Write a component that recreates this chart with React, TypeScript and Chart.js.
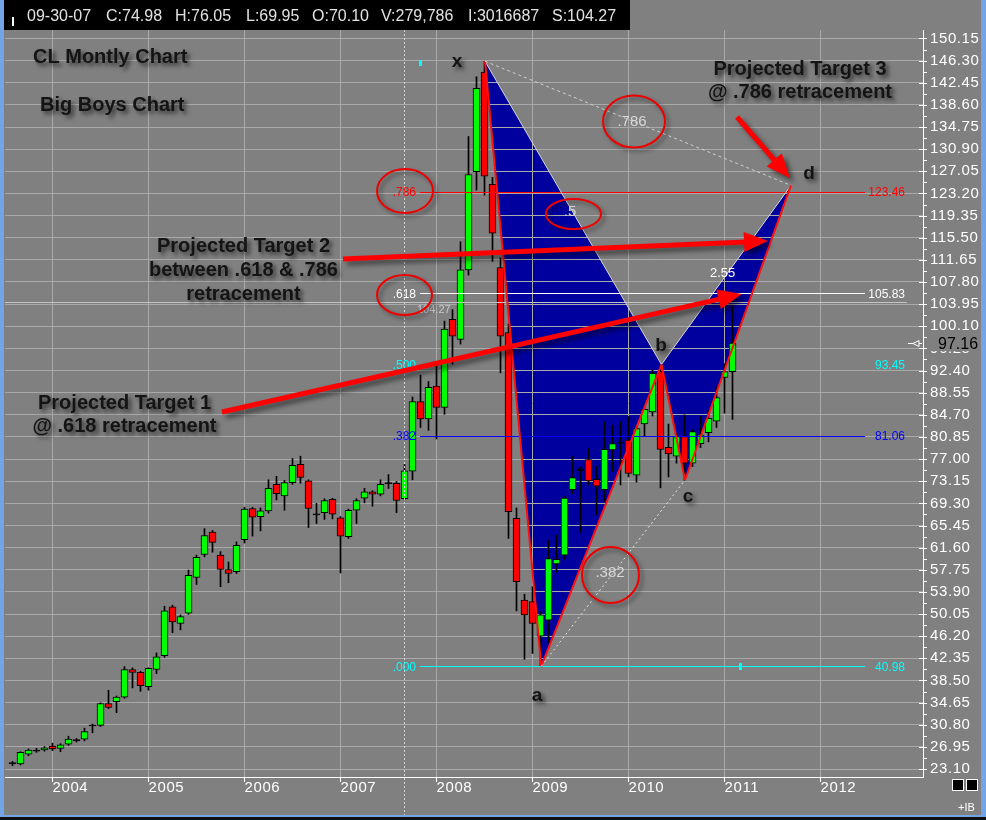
import React, { useEffect, useRef } from 'react';
import { Chart, registerables } from 'chart.js';

Chart.register(...registerables);

// ---------- DATA ----------
const months = [
  '2003-08', '2003-09', '2003-10', '2003-11', '2003-12',
  '2004-01', '2004-02', '2004-03', '2004-04', '2004-05', '2004-06', '2004-07', '2004-08', '2004-09', '2004-10', '2004-11', '2004-12',
  '2005-01', '2005-02', '2005-03', '2005-04', '2005-05', '2005-06', '2005-07', '2005-08', '2005-09', '2005-10', '2005-11', '2005-12',
  '2006-01', '2006-02', '2006-03', '2006-04', '2006-05', '2006-06', '2006-07', '2006-08', '2006-09', '2006-10', '2006-11', '2006-12',
  '2007-01', '2007-02', '2007-03', '2007-04', '2007-05', '2007-06', '2007-07', '2007-08', '2007-09', '2007-10', '2007-11', '2007-12',
  '2008-01', '2008-02', '2008-03', '2008-04', '2008-05', '2008-06', '2008-07', '2008-08', '2008-09', '2008-10', '2008-11', '2008-12',
  '2009-01', '2009-02', '2009-03', '2009-04', '2009-05', '2009-06', '2009-07', '2009-08', '2009-09', '2009-10', '2009-11', '2009-12',
  '2010-01', '2010-02', '2010-03', '2010-04', '2010-05', '2010-06', '2010-07', '2010-08', '2010-09', '2010-10', '2010-11', '2010-12',
  '2011-01', '2011-02',
];

const opens = [
  24.0, 24.0, 25.7, 26.4, 26.4,
  27.1, 26.7, 27.4, 28.0, 28.3, 30.6, 30.7, 34.5, 34.8, 35.6, 40.4, 39.9,
  37.4, 40.4, 42.8, 51.3, 48.4, 50.2, 56.4, 60.4, 64.3, 60.3, 57.8, 57.4,
  63.0, 68.4, 66.97, 68.0, 72.6, 70.6, 72.9, 76.1, 73.2, 67.3, 67.7, 70.0,
  66.8, 63.5, 68.1, 70.2, 71.3, 70.9, 72.7, 72.8, 70.1, 74.9, 87.0, 84.0,
  89.7, 86.0, 101.3, 97.8, 109.9, 127.0, 144.3, 124.8, 110.3, 99.0, 66.7, 52.5,
  52.2, 46.2, 49.0, 58.75, 60.3, 71.7, 75.0, 76.9, 73.5, 71.7, 78.6, 79.75,
  80.3, 74.2, 83.1, 85.2, 92.2, 79.05, 77.5, 80.9, 76.3, 79.7, 81.6, 83.6,
  91.2, 92.2,
];

const highs = [
  24.4, 26.1, 26.6, 26.7, 27.0,
  27.6, 27.5, 28.8, 28.4, 30.2, 30.9, 34.6, 36.8, 35.8, 40.9, 40.7, 40.1,
  40.7, 43.3, 51.4, 51.6, 49.9, 57.7, 60.3, 64.9, 64.6, 60.9, 59.1, 62.6,
  68.6, 68.6, 68.5, 73.4, 74.0, 73.3, 77.1, 77.5, 73.4, 69.3, 70.1, 70.2,
  67.0, 68.3, 70.1, 71.9, 71.5, 73.4, 74.3, 73.1, 76.05, 87.8, 91.6, 90.5,
  93.5, 101.0, 103.0, 114.8, 133.1, 143.5, 146.2, 126.0, 112.0, 100.5, 68.5, 53.5,
  54.8, 50.5, 62.9, 63.8, 70.5, 77.5, 75.6, 78.8, 75.8, 83.5, 82.9, 83.5,
  84.4, 82.6, 86.0, 92.5, 93.0, 83.1, 81.5, 84.7, 82.2, 84.4, 85.5, 89.5,
  93.6, 103.5,
];

const lows = [
  23.7, 23.8, 25.4, 26.0, 26.2,
  26.3, 26.1, 27.2, 27.8, 28.0, 29.4, 30.5, 33.6, 32.9, 35.4, 37.2, 36.6,
  36.8, 39.7, 42.5, 46.8, 47.3, 50.0, 55.2, 60.0, 60.8, 54.8, 55.5, 57.1,
  62.4, 63.6, 64.5, 67.6, 69.9, 68.1, 72.6, 72.8, 65.1, 65.8, 66.5, 66.6,
  57.2, 63.2, 65.8, 69.4, 68.8, 70.6, 71.9, 67.7, 69.95, 73.4, 82.5, 82.0,
  80.5, 84.8, 93.5, 97.0, 109.0, 123.8, 122.9, 111.4, 92.0, 63.2, 50.6, 42.2,
  43.2, 41.0, 45.0, 57.3, 59.6, 71.0, 64.2, 72.5, 67.3, 69.6, 74.8, 72.5,
  73.9, 73.0, 80.9, 84.5, 72.0, 73.9, 76.3, 73.3, 75.7, 79.0, 80.0, 82.5,
  85.0, 83.9,
];

const closes = [
  24.2, 26.0, 26.4, 26.2, 26.8,
  26.6, 27.3, 28.3, 28.2, 29.6, 30.8, 34.5, 33.8, 35.6, 40.4, 39.9, 37.6,
  40.6, 42.6, 50.6, 48.7, 49.6, 56.8, 59.9, 63.7, 62.5, 57.8, 57.1, 62.0,
  68.3, 66.9, 68.0, 71.9, 71.0, 72.9, 75.9, 73.8, 68.4, 67.5, 69.8, 67.4,
  63.6, 68.1, 69.8, 71.3, 70.9, 72.6, 72.9, 69.8, 74.98, 87.0, 84.0, 89.5,
  86.0, 99.6, 98.4, 109.9, 126.5, 141.5, 126.2, 116.3, 98.4, 67.85, 55.7, 49.9,
  48.4, 49.9, 59.7, 59.55, 70.2, 73.8, 75.3, 73.2, 72.3, 78.7, 79.7, 79.95,
  74.5, 82.3, 85.65, 91.9, 78.7, 77.9, 80.9, 76.3, 81.8, 81.2, 84.1, 87.7,
  92.2, 97.16,
];

const yearLabels = ['2004', '2005', '2006', '2007', '2008', '2009', '2010', '2011', '2012'];
const priceLabels = [
  '23.10', '26.95', '30.80', '34.65', '38.50', '42.35', '46.20', '50.05', '53.90', '57.75', '61.60', '65.45',
  '69.30', '73.15', '77.00', '80.85', '84.70', '88.55', '92.40', '96.25', '100.10', '103.95', '107.80',
  '111.65', '115.50', '119.35', '123.20', '127.05', '130.90', '134.75', '138.60', '142.45', '146.30', '150.15',
];

// Fibonacci retracement levels of the XA leg
const fibRatios = ['.000', '.382', '.500', '.618', '.786'];
const fibPrices = [40.98, 81.06, 93.45, 105.83, 123.46];
const fibColors = ['#00ffff', '#0000ff', '#00ffff', '#ffffff', '#ff0000'];

// Harmonic pattern pivots (month index from Jan 2004, price)
const patternNames = ['x', 'a', 'b', 'c', 'd'];
const patternMonths = [54.06, 61.1, 76.12, 79.06, 92.31];
const patternPrices = [146.2, 40.98, 93.45, 73.36, 124.6];

const headerItems = ['09-30-07', 'C:74.98', 'H:76.05', 'L:69.95', 'O:70.10', 'V:279,786', 'I:3016687', 'S:104.27'];
const lastPrice = '97.16';
const cursorPrice = 104.27;
const cursorMonth = 44;

// ---------- helpers ----------
const monthIndex = (s: string) => (parseInt(s.slice(0, 4), 10) - 2004) * 12 + parseInt(s.slice(5), 10) - 1;

const FONT = "'Liberation Sans', Arial, sans-serif";
const X_MIN = -5.9375;
const X_MAX = 108.8125;
const Y_MIN = 21.709;
const Y_MAX = 151.628;
const FIB_FROM = 45.94;
const FIB_TO = 101.56;

function shadowText(ctx: CanvasRenderingContext2D, text: string, x: number, y: number, align: CanvasTextAlign = 'left', font = `bold 20px ${FONT}`) {
  ctx.save();
  ctx.font = font;
  ctx.textAlign = align;
  ctx.textBaseline = 'alphabetic';
  ctx.shadowColor = 'rgba(0,0,0,0.6)';
  ctx.shadowBlur = 4;
  ctx.shadowOffsetX = 3;
  ctx.shadowOffsetY = 3;
  ctx.fillStyle = '#141414';
  ctx.fillText(text, x, y);
  ctx.restore();
}

function drawArrow(ctx: CanvasRenderingContext2D, x1: number, y1: number, x2: number, y2: number) {
  const ang = Math.atan2(y2 - y1, x2 - x1);
  const headLen = 24;
  const headHalf = 10;
  const bx = x2 - headLen * Math.cos(ang);
  const by = y2 - headLen * Math.sin(ang);
  ctx.save();
  ctx.shadowColor = 'rgba(0,0,0,0.5)';
  ctx.shadowBlur = 5;
  ctx.shadowOffsetX = 4;
  ctx.shadowOffsetY = 4;
  ctx.strokeStyle = '#ff0000';
  ctx.fillStyle = '#ff0000';
  ctx.lineWidth = 5;
  ctx.lineCap = 'butt';
  ctx.beginPath();
  ctx.moveTo(x1, y1);
  ctx.lineTo(bx + 2 * Math.cos(ang), by + 2 * Math.sin(ang));
  ctx.stroke();
  ctx.beginPath();
  ctx.moveTo(x2, y2);
  ctx.lineTo(bx + headHalf * Math.sin(ang), by - headHalf * Math.cos(ang));
  ctx.lineTo(bx - headHalf * Math.sin(ang), by + headHalf * Math.cos(ang));
  ctx.closePath();
  ctx.fill();
  ctx.restore();
}

function drawEllipse(ctx: CanvasRenderingContext2D, cx: number, cy: number, rx: number, ry: number) {
  ctx.save();
  ctx.shadowColor = 'rgba(0,0,0,0.45)';
  ctx.shadowBlur = 4;
  ctx.shadowOffsetX = 3;
  ctx.shadowOffsetY = 3;
  ctx.strokeStyle = '#ee0000';
  ctx.lineWidth = 2;
  ctx.beginPath();
  ctx.ellipse(cx, cy, rx, ry, 0, 0, Math.PI * 2);
  ctx.stroke();
  ctx.restore();
}

const overlayPlugin = {
  id: 'overlay',
  beforeDraw(chart: any) {
    const { ctx, width, height, chartArea } = chart;
    const xs = chart.scales.x;
    const ys = chart.scales.y;
    ctx.save();
    ctx.fillStyle = '#808080';
    ctx.fillRect(0, 0, width, height);
    ctx.beginPath();
    ctx.rect(chartArea.left, chartArea.top, chartArea.right - chartArea.left, chartArea.bottom - chartArea.top);
    ctx.clip();
    const P = patternMonths.map((m, i) => [xs.getPixelForValue(m), ys.getPixelForValue(patternPrices[i])]);
    ctx.fillStyle = '#00009e';
    [[0, 1, 2], [2, 3, 4]].forEach((t) => {
      ctx.beginPath();
      ctx.moveTo(P[t[0]][0], P[t[0]][1]);
      ctx.lineTo(P[t[1]][0], P[t[1]][1]);
      ctx.lineTo(P[t[2]][0], P[t[2]][1]);
      ctx.closePath();
      ctx.fill();
    });
    ctx.restore();
    // slightly spaced axis digits, like the original terminal font
    try { (ctx as any).letterSpacing = '0.6px'; } catch (e) { /* ignore */ }
  },
  afterDraw(chart: any) {
    const { ctx, chartArea } = chart;
    try { (ctx as any).letterSpacing = '0px'; } catch (e) { /* ignore */ }
    const xs = chart.scales.x;
    const ys = chart.scales.y;
    const P = patternMonths.map((m, i) => [xs.getPixelForValue(m), ys.getPixelForValue(patternPrices[i])]);

    ctx.save();
    ctx.beginPath();
    ctx.rect(chartArea.left, chartArea.top, chartArea.right - chartArea.left, chartArea.bottom - chartArea.top);
    ctx.clip();

    // cursor crosshair
    const cy = Math.round(ys.getPixelForValue(cursorPrice)) + 0.5;
    ctx.strokeStyle = '#c4c4c4';
    ctx.lineWidth = 1;
    ctx.beginPath();
    ctx.moveTo(chartArea.left, cy);
    ctx.lineTo(907, cy);
    ctx.stroke();

    // fib lines
    fibPrices.forEach((p, i) => {
      if (fibRatios[i] === '.500') return;
      const y = Math.round(ys.getPixelForValue(p)) + 0.5;
      ctx.strokeStyle = fibColors[i];
      ctx.lineWidth = 1;
      ctx.beginPath();
      ctx.moveTo(xs.getPixelForValue(FIB_FROM), y);
      ctx.lineTo(xs.getPixelForValue(FIB_TO), y);
      ctx.stroke();
    });

    // pattern edges
    const seg = (a: number, b: number, color: string, w: number, dash: number[] = []) => {
      ctx.save();
      ctx.strokeStyle = color;
      ctx.lineWidth = w;
      ctx.setLineDash(dash);
      ctx.beginPath();
      ctx.moveTo(P[a][0], P[a][1]);
      ctx.lineTo(P[b][0], P[b][1]);
      ctx.stroke();
      ctx.restore();
    };
    seg(0, 2, '#d8d8d8', 1);
    seg(2, 4, '#d8d8d8', 1);
    seg(0, 1, '#ff1010', 2);
    seg(1, 2, '#ff1010', 2);
    seg(2, 3, '#ff1010', 2);
    seg(3, 4, '#ff1010', 2);
    seg(0, 4, '#d0d0d0', 1, [3, 3]);
    seg(1, 3, '#e8e8e8', 1, [2, 3]);

    // small markers
    ctx.fillStyle = '#00ffff';
    ctx.fillRect(739, Math.round(ys.getPixelForValue(fibPrices[0])) - 3, 3, 7);
    ctx.fillRect(419, 60, 3, 6);
    ctx.restore();

    // cursor vertical line
    ctx.save();
    const vx = Math.floor(xs.getPixelForValue(cursorMonth)) + 0.5;
    ctx.strokeStyle = '#d4d4d4';
    ctx.setLineDash([2, 2]);
    ctx.beginPath();
    ctx.moveTo(vx, chartArea.top);
    ctx.lineTo(vx, 815);
    ctx.stroke();
    ctx.restore();

    // fib labels
    ctx.save();
    ctx.font = `12px ${FONT}`;
    ctx.textBaseline = 'middle';
    fibPrices.forEach((p, i) => {
      const y = ys.getPixelForValue(p);
      ctx.fillStyle = fibColors[i];
      ctx.textAlign = 'right';
      ctx.fillText(fibRatios[i], 416, y + 1);
      ctx.fillText(p.toFixed(2), 905, y + 1);
    });
    ctx.fillStyle = '#c8c8c8';
    ctx.font = `11px ${FONT}`;
    ctx.textAlign = 'left';
    ctx.fillText(cursorPrice.toFixed(2), 417, 310);
    ctx.fillStyle = '#ffffff';
    ctx.font = `13px ${FONT}`;
    ctx.fillText('2.55', 710, 273);
    ctx.fillStyle = '#d8d8d8';
    ctx.font = `15px ${FONT}`;
    ctx.textAlign = 'center';
    ctx.fillText('.786', 632, 122);
    ctx.fillText('.5', 570, 212);
    ctx.fillText('.382', 610, 573);
    ctx.restore();

    // pattern letters
    shadowText(ctx, patternNames[0], 457, 67, 'center', `bold 19px ${FONT}`);
    shadowText(ctx, patternNames[1], 537, 701, 'center', `bold 19px ${FONT}`);
    shadowText(ctx, patternNames[2], 661, 351, 'center', `bold 19px ${FONT}`);
    shadowText(ctx, patternNames[3], 688, 502, 'center', `bold 19px ${FONT}`);
    shadowText(ctx, patternNames[4], 809, 179, 'center', `bold 19px ${FONT}`);

    // circles
    drawEllipse(ctx, 405, 191, 28, 22);
    drawEllipse(ctx, 404.5, 295, 27.5, 20);
    drawEllipse(ctx, 573.5, 214, 27.5, 15);
    drawEllipse(ctx, 634, 121.5, 31, 26);
    drawEllipse(ctx, 610.5, 575, 28.5, 28);

    // arrows
    drawArrow(ctx, 222, 412, 742, 294);
    drawArrow(ctx, 343, 259, 768, 241);
    drawArrow(ctx, 737, 117, 790, 178);

    // titles / notes
    shadowText(ctx, 'CL Montly Chart', 33, 63);
    shadowText(ctx, 'Big Boys Chart', 40, 111);
    shadowText(ctx, 'Projected Target 2', 243.5, 252, 'center');
    shadowText(ctx, 'between .618 & .786', 243.5, 276, 'center');
    shadowText(ctx, 'retracement', 243.5, 300, 'center');
    shadowText(ctx, 'Projected Target 1', 124.5, 409, 'center');
    shadowText(ctx, '@ .618 retracement', 124.5, 432, 'center');
    shadowText(ctx, 'Projected Target 3', 800, 75, 'center');
    shadowText(ctx, '@ .786 retracement', 800, 98, 'center');

    // y axis small ticks
    ctx.save();
    ctx.strokeStyle = '#ffffff';
    ctx.lineWidth = 1;
    priceLabels.forEach((t, i) => {
      const v = parseFloat(t);
      const y = Math.round(ys.getPixelForValue(v)) + 0.5;
      ctx.beginPath();
      ctx.moveTo(919, y);
      ctx.lineTo(927, y);
      ctx.stroke();
      if (i < priceLabels.length - 1) {
        const ym = Math.round(ys.getPixelForValue((v + parseFloat(priceLabels[i + 1])) / 2)) + 0.5;
        ctx.beginPath();
        ctx.moveTo(923, ym);
        ctx.lineTo(927, ym);
        ctx.stroke();
      }
    });
    ctx.restore();

    // last price marker
    ctx.save();
    const ly = ys.getPixelForValue(parseFloat(lastPrice));
    ctx.fillStyle = '#808080';
    ctx.fillRect(930, ly - 8, 51, 16);
    ctx.fillStyle = '#000000';
    ctx.font = `16px ${FONT}`;
    ctx.textBaseline = 'middle';
    ctx.textAlign = 'left';
    ctx.fillText(lastPrice, 938, ly + 1);
    ctx.strokeStyle = '#ffffff';
    ctx.beginPath();
    ctx.moveTo(908, Math.round(ly) + 0.5);
    ctx.lineTo(913, Math.round(ly) + 0.5);
    ctx.moveTo(913, Math.round(ly) + 0.5);
    ctx.lineTo(919, Math.round(ly) - 2.5);
    ctx.lineTo(919, Math.round(ly) + 3.5);
    ctx.closePath();
    ctx.moveTo(919, Math.round(ly) + 0.5);
    ctx.lineTo(922, Math.round(ly) + 0.5);
    ctx.stroke();
    ctx.restore();

    // header bar
    ctx.save();
    ctx.fillStyle = '#000000';
    ctx.fillRect(4, 0, 626, 30);
    ctx.fillStyle = '#e2e2e2';
    ctx.font = `16px ${FONT}`;
    ctx.textBaseline = 'alphabetic';
    const hx = [27, 106, 175, 246, 312, 381, 468, 552];
    headerItems.forEach((t, i) => ctx.fillText(t, hx[i], 21));
    ctx.fillStyle = '#ffffff';
    ctx.fillRect(12, 17, 2, 9);

    // frame
    ctx.fillStyle = '#74a4e8';
    ctx.fillRect(0, 0, 4, 820);
    ctx.fillRect(981, 0, 5, 820);
    ctx.fillRect(0, 815, 986, 2);
    ctx.fillStyle = '#101010';
    ctx.fillRect(0, 817, 986, 3);

    // bottom right buttons
    ctx.fillStyle = '#000000';
    ctx.strokeStyle = '#ffffff';
    ctx.lineWidth = 1;
    [952, 966].forEach((bx) => {
      ctx.fillRect(bx, 779, 12, 12);
      ctx.strokeRect(bx + 0.5, 779.5, 11, 11);
    });
    ctx.fillStyle = '#ffffff';
    ctx.font = `11px ${FONT}`;
    ctx.textBaseline = 'middle';
    ctx.fillText('+IB', 958, 808);
    ctx.restore();
  },
};

export default function App() {
  const ref = useRef<HTMLCanvasElement>(null);

  useEffect(() => {
    const canvas = ref.current;
    if (!canvas) return;
    const xs = months.map(monthIndex);
    const bodies = months.map((_, i) => ({ x: xs[i], y: [opens[i], closes[i]] }));
    const wicks = months.map((_, i) => ({ x: xs[i], y: [lows[i], highs[i]] }));
    const bodyColors = opens.map((o, i) => (Math.abs(closes[i] - o) < 0.3 ? '#000000' : closes[i] >= o ? '#00ff00' : '#ff0000'));

    const chart = new Chart(canvas, {
      type: 'bar',
      data: {
        datasets: [
          {
            label: 'body',
            data: bodies as any,
            backgroundColor: bodyColors,
            borderColor: '#000000',
            borderWidth: 1,
            borderSkipped: false,
            barThickness: 7,
            grouped: false,
            order: 0,
          } as any,
          {
            label: 'wick',
            data: wicks as any,
            backgroundColor: '#000000',
            borderWidth: 0,
            barThickness: 1,
            grouped: false,
            order: 1,
          } as any,
        ],
      },
      options: {
        animation: false,
        responsive: false,
        devicePixelRatio: 1,
        layout: { padding: { left: 5, top: 30, right: 0, bottom: 0 } },
        plugins: { legend: { display: false }, tooltip: { enabled: false } },
        scales: {
          x: {
            type: 'linear',
            position: 'bottom',
            min: X_MIN,
            max: X_MAX,
            offset: false,
            afterBuildTicks: (s: any) => {
              s.ticks = yearLabels.map((_, i) => ({ value: i * 12 }));
            },
            afterFit: (s: any) => {
              s.height = 43;
            },
            ticks: {
              color: '#ffffff',
              font: { family: FONT, size: 15 },
              align: 'start',
              padding: -3,
              maxRotation: 0,
              autoSkip: false,
              callback: (v: any) => yearLabels[Math.round(Number(v) / 12)] ?? '',
            },
            grid: { color: '#a9a9a9', tickColor: '#ffffff', tickLength: 5, offset: false, lineWidth: 1 },
            border: { color: '#ffffff', width: 1 },
          } as any,
          y: {
            type: 'linear',
            position: 'right',
            min: Y_MIN,
            max: Y_MAX,
            afterBuildTicks: (s: any) => {
              s.ticks = priceLabels.map((t) => ({ value: parseFloat(t) }));
            },
            afterFit: (s: any) => {
              s.width = 63;
            },
            ticks: {
              color: '#ffffff',
              font: { family: FONT, size: 15 },
              padding: 7,
              autoSkip: false,
              callback: (v: any) => Number(v).toFixed(2),
            },
            grid: { color: '#a9a9a9', drawTicks: false, lineWidth: 1 },
            border: { color: '#ffffff', width: 1 },
          } as any,
        },
      },
      plugins: [overlayPlugin],
    });
    return () => chart.destroy();
  }, []);

  return (
    <div style={{ position: 'absolute', left: 0, top: 0, width: 986, height: 820 }}>
      <canvas ref={ref} width={986} height={820} style={{ display: 'block', width: 986, height: 820 }} />
    </div>
  );
}
